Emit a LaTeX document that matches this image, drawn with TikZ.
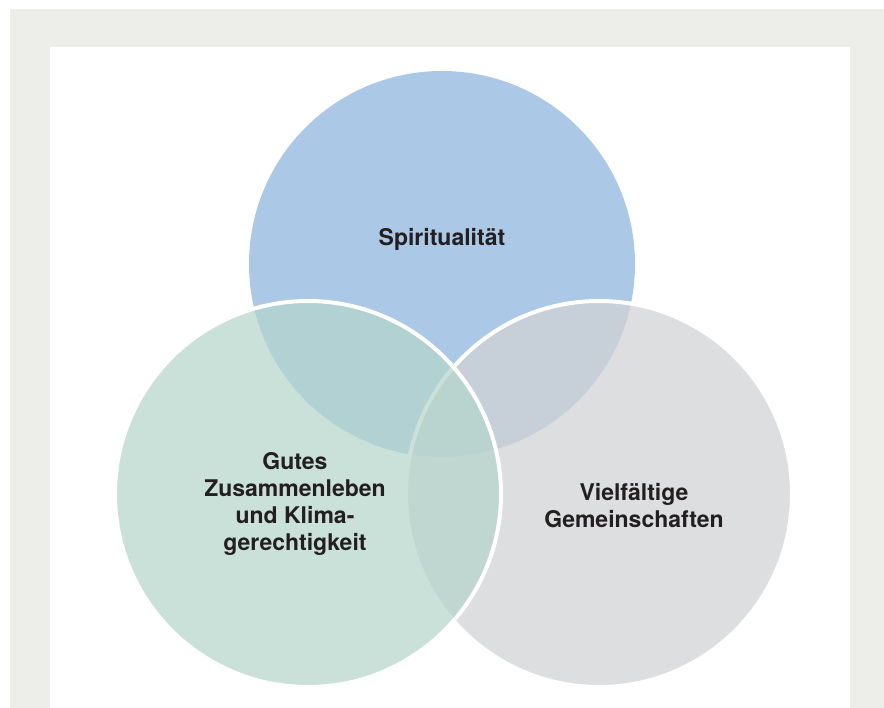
\documentclass[tikz,border=0pt]{standalone}
\usepackage{fontspec}
\setmainfont{TeX Gyre Heros}
\usepackage{tikz}
\definecolor{framegrey}{HTML}{EDEDE9}
\definecolor{spiriblue}{HTML}{ABC8E6}
\definecolor{klimagreen}{HTML}{B4D5CA}
\definecolor{gemgrey}{HTML}{D1D3D5}
\definecolor{darktext}{HTML}{231F20}
\tikzset{
  venn/.style={circle, minimum size=386pt, inner sep=0pt},
  vennrim/.style={draw=white, line width=4pt},
  venntext/.style={font=\fontsize{23}{27}\selectfont\bfseries,
    text=darktext, align=center, inner sep=0pt}
}

\begin{document}
\begin{tikzpicture}[x=1pt, y=-1pt]

  \useasboundingbox (0,0) rectangle (884,708); %% page size

  %% frame
  \fill[framegrey] (10,9) rectangle (884,708);
  \fill[white] (50,47) rectangle (850,708);

  %% circles
  \node[venn, fill=spiriblue] (spirit) at (442,264) {};
  \node[venn, vennrim, fill=gemgrey, fill opacity=0.75] (vielfalt) at (599,494) {};
  \node[venn, vennrim, fill=klimagreen, fill opacity=0.7] (klima) at (308,494) {};

  %% labels
  \node[venntext] (spirittext) at (442,239) {Spiritualität};
  \node[venntext] (klimatext) at (295,503.5)
    {Gutes\\Zusammenleben\\und Klima-\\gerechtigkeit};
  \node[venntext] (vielfalttext) at (634,505.5) {Vielfältige\\Gemeinschaften};

\end{tikzpicture}
\end{document}
